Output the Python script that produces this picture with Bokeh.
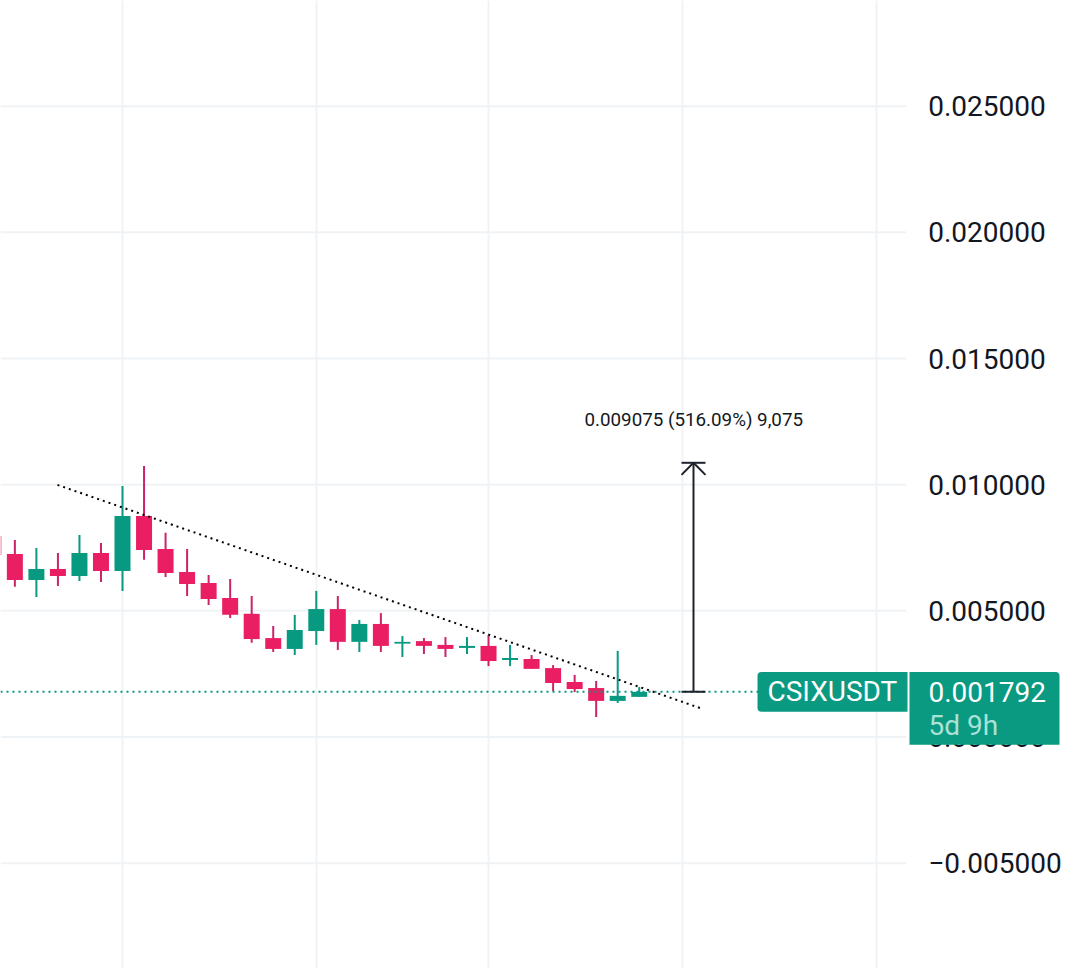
from bokeh.plotting import figure
from bokeh.models import Range1d, FixedTicker, BoxAnnotation, Label
from bokeh.embed import file_html
from bokeh.resources import INLINE

# candles, left to right (the first is cut off by the left edge)
opens  = [0.00797, 0.00725, 0.00622, 0.00666, 0.00638, 0.00729, 0.00658, 0.00876, 0.00745, 0.00654, 0.00610, 0.00551,
          0.00488, 0.00392, 0.00349, 0.00420, 0.00507, 0.00377, 0.00448, 0.00370, 0.00380, 0.00365, 0.00353, 0.00361,
          0.00305, 0.00309, 0.00273, 0.00218, 0.00194, 0.00143, 0.00159]
closes = [0.00721, 0.00622, 0.00666, 0.00638, 0.00729, 0.00658, 0.00876, 0.00741, 0.00650, 0.00606, 0.00547, 0.00484,
          0.00388, 0.00349, 0.00424, 0.00507, 0.00377, 0.00448, 0.00361, 0.00377, 0.00361, 0.00349, 0.00361, 0.00301,
          0.00313, 0.00270, 0.00214, 0.00190, 0.00143, 0.00163, 0.00179]
highs  = [0.00850, 0.00781, 0.00749, 0.00729, 0.00801, 0.00769, 0.00995, 0.01074, 0.00809, 0.00745, 0.00642, 0.00626,
          0.00559, 0.00440, 0.00484, 0.00579, 0.00559, 0.00464, 0.00491, 0.00400, 0.00392, 0.00396, 0.00396, 0.00404,
          0.00365, 0.00325, 0.00285, 0.00246, 0.00222, 0.00341, 0.00198]
lows   = [0.00690, 0.00595, 0.00555, 0.00598, 0.00618, 0.00614, 0.00579, 0.00702, 0.00634, 0.00559, 0.00523, 0.00472,
          0.00373, 0.00337, 0.00325, 0.00365, 0.00345, 0.00337, 0.00337, 0.00317, 0.00329, 0.00317, 0.00329, 0.00281,
          0.00281, 0.00270, 0.00182, 0.00178, 0.00079, 0.00135, 0.00159]
index = list(range(len(opens)))

# axes
price_ticks  = [0.025, 0.02, 0.015, 0.01, 0.005, 0.0, -0.005]
price_labels = ["0.025000", "0.020000", "0.015000", "0.010000", "0.005000", "0.000000", "\u22120.005000"]
time_ticks   = [6, 15, 23, 32, 41]

# annotations
last_price   = 0.001792
symbol       = "CSIXUSDT"
price_text   = "0.001792"
countdown    = "5d 9h"
trend_x      = [2.98, 32.82]
trend_y      = [0.00999, 0.00115]
measure_x    = 32.52
measure_move = 0.009075
measure_text = "0.009075 (516.09%) 9,075"

UP, DOWN, DOWN_WICK, TAG, INK = "#089981", "#E91E63", "#C9246A", "#0A9981", "#131722"
FONT = "Roboto"
X0, AXIS_X, X1 = 0.333, 42.40, 50.681

p = figure(width=1084, height=968, output_backend="svg", toolbar_location=None,
           x_range=Range1d(X0, X1), y_range=Range1d(-0.009176, 0.02919),
           y_axis_location="right",
           min_border_left=0, min_border_top=0, min_border_bottom=0, min_border_right=0)
p.outline_line_color = None
p.background_fill_color = "#ffffff"
p.xaxis.visible = False
p.xgrid.ticker = FixedTicker(ticks=time_ticks)
p.ygrid.visible = False
p.xgrid.grid_line_color = "#F0F3F5"
p.xgrid.grid_line_width = 2
p.segment([X0] * len(price_ticks), price_ticks, [AXIS_X] * len(price_ticks), price_ticks,
          line_color="#F0F3F5", line_width=2, level="underlay")

ax = p.yaxis[0]
ax.fixed_location = AXIS_X
ax.ticker = FixedTicker(ticks=price_ticks)
ax.major_label_overrides = dict(zip(price_ticks, price_labels))
ax.axis_line_color = None
ax.major_tick_line_color = None
ax.minor_tick_line_color = None
ax.major_label_standoff = 16
ax.major_label_text_font = FONT
ax.major_label_text_font_size = "28px"
ax.major_label_text_color = INK

for i, o, c, h, l in zip(index, opens, closes, highs, lows):
    col = UP if c >= o else DOWN
    p.segment([i], [l], [i], [h], line_color=UP if c >= o else DOWN_WICK, line_width=2)
    p.vbar([i], width=0.743, bottom=[min(o, c)], top=[max(o, c)], fill_color=col, line_color=None)

# last price line, trend line
p.line([X0, AXIS_X], [last_price, last_price], line_color=UP, line_width=2, line_dash=[2, 4])
p.line(trend_x, trend_y, line_color="#000000", line_width=2, line_dash=[2, 4])

# measure arrow
top = last_price + measure_move
hw, hh = 0.557, 0.00048
p.segment([measure_x], [last_price], [measure_x], [top], line_color="#1E222D", line_width=2)
p.segment([measure_x - hw, measure_x - hw], [last_price, top], [measure_x + hw, measure_x + hw], [last_price, top],
          line_color="#1E222D", line_width=2)
p.line([measure_x - hw, measure_x, measure_x + hw], [top - hh, top, top - hh], line_color="#1E222D", line_width=2)
p.add_layout(Label(x=584, x_units="screen", y=top + 0.00168, text=measure_text, text_font=FONT,
                   text_font_size="18.8px", text_color=INK, text_baseline="middle"))

# price tags on the right
p.add_layout(BoxAnnotation(left=757, right=907, left_units="screen", right_units="screen",
                           top=0.002576, bottom=0.001, fill_color=TAG, fill_alpha=1, line_color=None,
                           border_radius=dict(top_left=4, bottom_left=4, top_right=0, bottom_right=0),
                           level="overlay"))
p.add_layout(BoxAnnotation(left=909, right=1059, left_units="screen", right_units="screen",
                           top=0.002576, bottom=-0.000305, fill_color=TAG, fill_alpha=1, line_color=None,
                           border_radius=dict(top_left=0, bottom_left=0, top_right=4, bottom_right=0),
                           level="overlay"))
p.add_layout(Label(x=767, x_units="screen", y=last_price, text=symbol, text_font=FONT, text_font_size="28px",
                   text_color="#ffffff", text_baseline="middle", level="overlay"))
p.add_layout(Label(x=928, x_units="screen", y=last_price, text=price_text, text_font=FONT, text_font_size="28px",
                   text_color="#ffffff", text_baseline="middle", level="overlay"))
p.add_layout(Label(x=928, x_units="screen", y=last_price - 0.00134, text=countdown, text_font=FONT,
                   text_font_size="28px", text_color="#A9E2D6", text_baseline="middle", level="overlay"))

open("out.html", "w").write(file_html(p, INLINE))
